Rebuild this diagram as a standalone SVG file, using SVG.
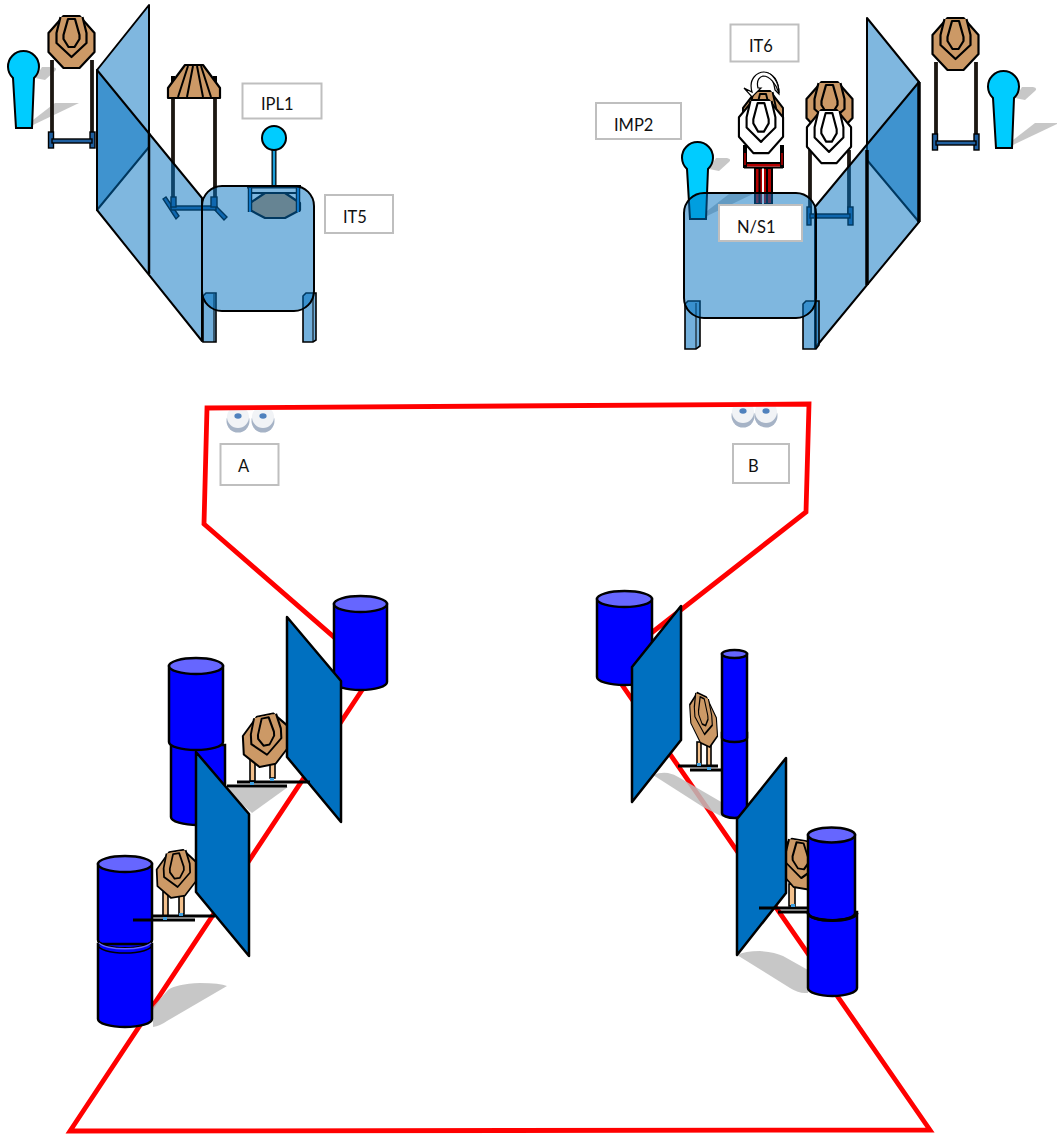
<svg xmlns="http://www.w3.org/2000/svg" width="1057" height="1136" viewBox="0 0 1057 1136">
<style>
.tan{fill:#cc9966;stroke:#000;stroke-width:2.2;stroke-linejoin:round}
.wht{fill:#fff;stroke:#000;stroke-width:2.2;stroke-linejoin:round}
.thin{stroke-width:2}
.glass{fill:#0070c0;fill-opacity:.5;stroke:#000;stroke-width:2;stroke-linejoin:round}
.leg{fill:#0070c0;fill-opacity:.55;stroke:#000;stroke-width:1.6}
.panel{fill:#0070c0;stroke:#000;stroke-width:2.5;stroke-linejoin:round}
.shadow{fill:#bdbdbd;fill-opacity:.85}
.cyan{fill:#00ccff;stroke:#000;stroke-width:2}
.post{stroke:#1c1712;stroke-width:3.800;fill:none}
.foot{fill:#1f5f9f;stroke:#000;stroke-width:1.4}
.bar{stroke:#000;stroke-width:3.2;fill:none}
.tleg{fill:#f2c08c;stroke:#000;stroke-width:1.6}
.bluefoot{fill:#3f9fe0}
.body{fill:#0000ff;stroke:#000;stroke-width:2.5}
.lid{fill:#6666ff;stroke:#000;stroke-width:2.5}
.lab{fill:#fff;stroke:#bfbfbf;stroke-width:2}
.txt{font-family:Lato,"Open Sans","Liberation Sans",sans-serif;font-size:16.5px;fill:#111}
.red{fill:none;stroke:#ff0000;stroke-width:4.800;stroke-linejoin:miter}
</style>
<defs>
<g id="target">
<path d="M-8,0H8L23,17V36L8,52H-8L-23,36V17Z"/>
<path d="M-11,1L-15,17V27L0,41L15,27V17L11,1"/>
<path d="M-3.500,3H3.500L8,19V23L3,31H-3L-8,23V19Z"/>
</g>
<g id="stand">
<path class="post" d="M52,60V140M92,60V140"/>
<rect class="foot" x="48.500" y="132" width="5" height="16"/>
<rect class="foot" x="90" y="132" width="5" height="16"/>
<rect class="foot" x="52" y="139" width="40" height="4"/>
</g>
<g id="figure">
<path class="shadow" d="M33,125L79,103H55L33,120Z"/>
<path class="shadow" d="M35,78L42,67L53,67Q58,68 55,71L45,80Z"/>
<path class="cyan" d="M13,78A15.500,15.500 0 1 1 34,78L32,128H16Z"/>
</g>
<g id="eye">
<circle cx="0" cy="4" r="11.500" fill="#a6b3c6"/>
<circle cx="0" cy="0" r="11" fill="#f1f3f6"/>
<ellipse cx="0" cy="-1" rx="3.600" ry="2.700" fill="#4f81bd"/>
</g>
</defs>

<g id="left-group">
<use href="#figure"/>
<g id="left-target-1">
<use href="#stand"/>
<use href="#target" class="tan" transform="translate(71.500,16)"/>
</g>
<g id="left-target-2">
<path class="post" d="M173,98V208M215,98V208"/>
<path class="foot" d="M163,199L166,197L179,216L176,219Z"/>
<path class="foot" d="M211,206L214,204L227,217L224,220Z"/>
<rect class="foot" x="171" y="206" width="45" height="4"/>
<rect class="foot" x="171" y="197" width="5" height="10"/>
<rect class="foot" x="211" y="197" width="6" height="10"/>
<path d="M171,76h4v14h-4zM213,76h4v14h-4z" fill="#000"/>
<path class="tan" d="M185,65H203L220,88V98H168V88Z"/>
<path d="M188,66L178,97M193,66L187,97M197,66L203,97M201,66L211,97" fill="none" stroke="#000" stroke-width="2"/>
</g>
<g id="ipl1">
<path d="M274,150V187" stroke="#000" stroke-width="5"/>
<path d="M274,150V187" stroke="#1e9ed8" stroke-width="2.500"/>
<circle class="cyan" cx="274" cy="138" r="12"/>
<path class="tan" d="M265,193H285L300,203V210L285,218H265L250,210V203Z"/>
<rect x="247" y="185" width="54" height="3.500" fill="#000"/>
<path d="M250,188V212M298,188V212" stroke="#000" stroke-width="4.500" fill="none"/>
<path d="M250,188V212M298,188V212" stroke="#1f7fd0" stroke-width="2" fill="none"/>
<path d="M251,193H297" stroke="#000" stroke-width="2"/>
</g>
<path class="glass" d="M149,5V147L97,210V70Z"/>
<path class="glass" d="M97,70L202,198V341L97,210Z"/>
<path d="M149,133V274" stroke="#000" stroke-width="2.500"/>
<path class="leg" d="M203,296L206,293H216V342H203Z"/>
<path d="M214,294V342" stroke="#000" stroke-width="1"/>
<path class="leg" d="M303,296L306,293H316V340L313,342H303Z"/>
<path d="M313,294V342" stroke="#000" stroke-width="1"/>
<rect class="glass" x="202" y="186" width="112" height="125" rx="20"/>
<g id="ipl1-label"><rect class="lab" x="242.500" y="83.500" width="79" height="35"/><text class="txt" x="261" y="110">IPL1</text></g>
<g id="it5-label"><rect class="lab" x="325" y="195" width="68" height="38"/><text class="txt" x="343" y="223">IT5</text></g>
</g>

<g id="right-group">
<use href="#figure" transform="translate(980,20)"/>
<g id="right-target-1">
<use href="#stand" transform="translate(884,2)"/>
<use href="#target" class="tan" transform="translate(955.500,18)"/>
</g>
<use href="#figure" transform="translate(674,91)"/>
<g id="right-target-3">
<rect x="755" y="168" width="17" height="36" fill="#b40000" stroke="#000" stroke-width="2"/>
<path d="M759.500,168V204M767,168V204" stroke="#000" stroke-width="2" fill="none"/>
<path d="M763,168V204" stroke="#fff" stroke-width="2" fill="none"/>
<rect x="746" y="150" width="36" height="13" fill="#fff"/>
<path d="M744,163H783M744,167.500H783" stroke="#000" stroke-width="1.800"/>
<path d="M744,165.200H783" stroke="#b40000" stroke-width="2.500"/>
<path d="M745,145V168M782,145V168" stroke="#000" stroke-width="4"/>
<path d="M745,153V165M782,153V165" stroke="#b40000" stroke-width="1.600"/>
<use href="#target" class="tan" transform="translate(763,91) scale(.87,1)"/>
<path d="M768,73C776,76 779,84 779,94L775,90C774,82 772,78 768,73Z" fill="#c8c8c8" stroke="#000" stroke-width="1.200"/>
<path d="M752,92C748,78 758,72 764,72C772,72 779,82 779,93C776,84 770,76 763,76C757,78 757,84 758,88H761L752,97L744,88Z" fill="#fff" stroke="#000" stroke-width="1.200"/>
<use href="#target" class="wht" transform="translate(761,100) scale(.96,1.020)"/>
</g>
<g id="right-target-2">
<path class="post" d="M810,150V215M849,150V215"/>
<rect class="foot" x="807" y="207" width="4" height="18"/>
<rect class="foot" x="848" y="207" width="5" height="18"/>
<rect class="foot" x="810" y="214" width="40" height="4"/>
<use href="#target" class="tan" transform="translate(829.500,82)"/>
<use href="#target" class="wht" transform="translate(829,110) scale(.96,1.020)"/>
</g>
<path class="glass" d="M867,18V160L919,222V82Z"/>
<path class="glass" d="M919,82L815,207V348L919,222Z"/>
<path d="M867,150V285" stroke="#000" stroke-width="3.500"/>
<path d="M919,82V222" stroke="#000" stroke-width="3.500"/>
<path class="leg" d="M685,304L688,301H700V346L696,349H685Z"/>
<path d="M696,303V349" stroke="#000" stroke-width="1"/>
<path class="leg" d="M803,304L806,301H819V345L816,349H803Z"/>
<path d="M816,302V349" stroke="#000" stroke-width="1"/>
<rect class="glass" x="684" y="193" width="132" height="125" rx="20"/>
<g id="it6-label"><rect class="lab" x="730.500" y="24.500" width="68" height="37"/><text class="txt" x="749" y="52">IT6</text></g>
<g id="imp2-label"><rect class="lab" x="596" y="103" width="85" height="36"/><text class="txt" x="614" y="131">IMP2</text></g>
<g id="ns1-label"><rect class="lab" x="719" y="205" width="83" height="36"/><text class="txt" x="737" y="233">N/S1</text></g>
</g>

<g id="course">
<use href="#eye" transform="translate(238,417)"/>
<use href="#eye" transform="translate(263,417)"/>
<use href="#eye" transform="translate(743,412)"/>
<use href="#eye" transform="translate(766,412)"/>
<path class="red" d="M207,408L809,404L806,512L609,666L930,1130L70,1131L374,672L204,524Z"/>
<g id="label-a"><rect class="lab" x="220.500" y="444" width="58" height="41"/><text class="txt" x="238" y="472">A</text></g>
<g id="label-b"><rect class="lab" x="733" y="444" width="56" height="39"/><text class="txt" x="748" y="472">B</text></g>
</g>

<g id="lower-left">
<path class="shadow" d="M227,788L288,787L252,813L237,800Z"/>
<path class="shadow" d="M153,1007L168,990Q176,984 200,983Q220,983 227,986L167,1021Q160,1026 153,1027Z"/>
<g id="barrel-1"><path class="body" d="M334,604V682A26.500,8 0 0 0 387,682V604Z"/><ellipse class="lid" cx="360.500" cy="604" rx="26.500" ry="8"/></g>
<g id="barrel-2-lower"><path class="body" d="M171,745V817A27,8 0 0 0 225,817V745Z"/></g>
<g id="barrel-2-upper"><path class="body" d="M169,666V742A27,8 0 0 0 223,742V666Z"/><ellipse class="lid" cx="196" cy="666" rx="27" ry="8"/></g>
<g id="barrel-3-upper"><path class="body" d="M98,864V940A27,8 0 0 0 152,940V864Z"/><ellipse class="lid" cx="125" cy="864" rx="27" ry="8"/></g>
<g id="barrel-3-lower"><path class="body" d="M98,944V1019A27,8 0 0 0 152,1019V944Z"/><path d="M98,940A27,8 0 0 0 152,940" fill="none" stroke="#000" stroke-width="2"/><path d="M99,943A27,8 0 0 0 151,943" fill="none" stroke="#6666ff" stroke-width="1.500"/><path d="M98,945A27,8 0 0 0 152,945" fill="none" stroke="#000" stroke-width="1.500"/></g>
<g id="target-ll-1">
<rect class="tleg" x="250" y="755" width="5" height="26"/>
<rect class="tleg" x="270" y="752" width="5" height="26"/>
<use href="#target" class="tan thin" transform="matrix(1,-.2,.05,.97,265,715)"/>
</g>
<g id="target-ll-2">
<rect class="tleg" x="163" y="892" width="5" height="24"/>
<rect class="tleg" x="179" y="888" width="5" height="26"/>
<use href="#target" class="tan thin" transform="matrix(.87,-.15,.04,.88,176,851)"/>
</g>
<polygon class="panel" points="287,617 341,681 341,822 287,757"/>
<polygon class="panel" points="196,752 249,814 249,956 196,892"/>
<path class="bar" d="M237,782H310M227,786H287M152,916H215M133,920H195"/>
<rect class="bluefoot" x="250" y="782" width="4" height="3"/>
<rect class="bluefoot" x="270" y="778" width="4" height="3"/>
<rect class="bluefoot" x="163" y="917" width="4" height="3"/>
<rect class="bluefoot" x="179" y="913" width="4" height="3"/>
</g>

<g id="lower-right">
<path class="shadow" d="M653,775Q660,772 668,773Q674,774 680,778L723,803V817L703,807Z"/>
<path class="shadow" d="M737,955Q745,951 760,951Q775,952 783,956L808,970V993H805Q798,993 790,988Z"/>
<g id="barrel-r1"><path class="body" d="M597,599V677A27.500,8 0 0 0 652,677V599Z"/><ellipse class="lid" cx="624.500" cy="599" rx="27.500" ry="8"/></g>
<g id="barrel-r2-lower"><path class="body" d="M722,733V813A12.500,5 0 0 0 747,813V733Z"/></g>
<g id="barrel-r2-upper"><path class="body" d="M722,654V738A12.500,4 0 0 0 747,738V654Z"/><ellipse class="lid" cx="734.500" cy="654" rx="12.500" ry="4"/></g>
<g id="target-lr-1">
<rect class="tleg" x="697" y="742" width="4" height="22"/>
<rect class="tleg" x="707" y="744" width="4" height="22"/>
<use href="#target" class="tan thin" transform="matrix(.58,.28,.06,.96,702,695)"/>
</g>
<g id="target-lr-2">
<rect class="tleg" x="789" y="884" width="6" height="22"/>
<use href="#target" class="tan thin" transform="matrix(1,.17,.03,.93,800,840)"/>
</g>
<g id="barrel-r3-lower"><path class="body" d="M808,912V988A24.500,8 0 0 0 857,988V912Z"/></g>
<g id="barrel-r3-upper"><path class="body" d="M808,835V913A23.500,7.500 0 0 0 855,913V835Z"/><ellipse class="lid" cx="831.500" cy="835" rx="23.500" ry="7.500"/><path d="M808,913A24.500,7.500 0 0 0 857,913" fill="none" stroke="#000" stroke-width="3"/></g>
<polygon class="panel" points="681,606 681,740 632,802 632,667"/>
<polygon class="panel" points="786,758 786,893 737,955 737,819"/>
<path class="bar" d="M678,766H718M690,770H722M759,908H807M778,912H808"/>
<rect class="bluefoot" x="697" y="763" width="4" height="3"/>
<rect class="bluefoot" x="707" y="767" width="4" height="3"/>
<rect class="bluefoot" x="791" y="904" width="4" height="3"/>
</g>
</svg>
